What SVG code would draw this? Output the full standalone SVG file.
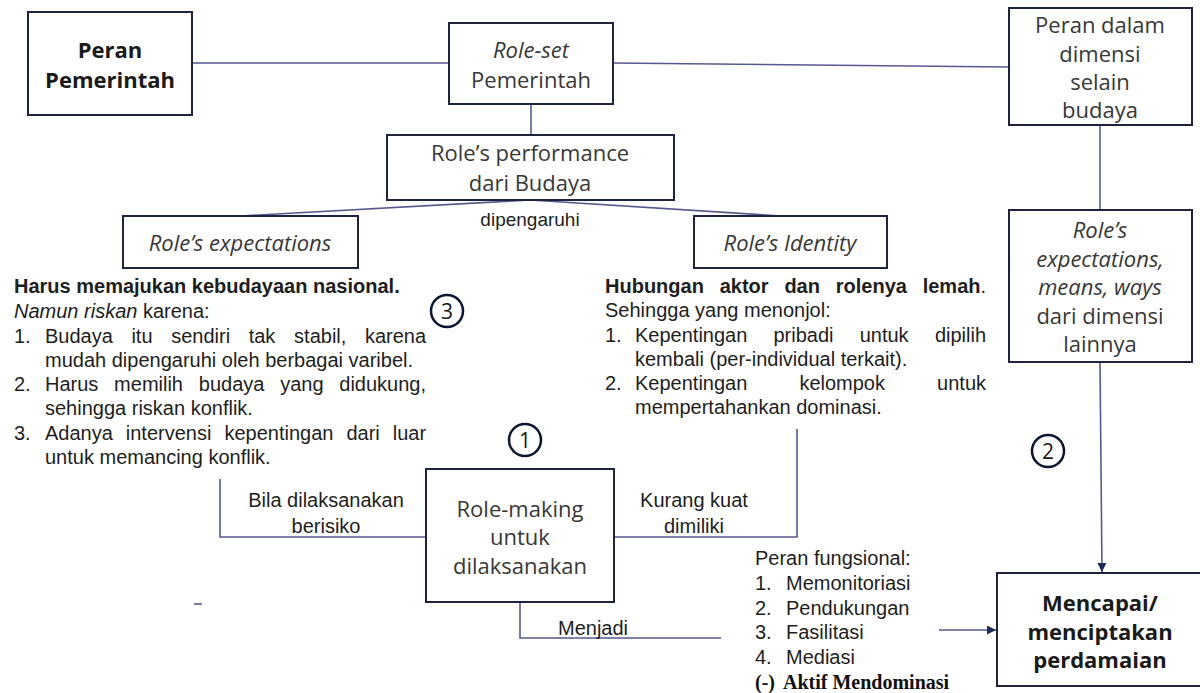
<svg xmlns="http://www.w3.org/2000/svg" width="1200" height="693" viewBox="0 0 1200 693">
<style>
  .box { fill: #ffffff; stroke: #1e2340; stroke-width: 2; }
  .bt { font-family: "Open Sans", "Liberation Sans", sans-serif; font-size: 22px; font-weight: 400; fill: #383838; text-anchor: middle; }
  .bb { font-family: "Open Sans", "Liberation Sans", sans-serif; font-size: 22px; font-weight: bold; fill: #1a1a1a; text-anchor: middle; }
  .it { font-style: italic; }
  .con { fill: none; stroke: #55598f; stroke-width: 1.6; }
  .tx { font-family: "Liberation Sans", Arial, sans-serif; font-size: 20px; fill: #1e1e1e; }
  .txc { font-family: "Liberation Sans", Arial, sans-serif; font-size: 20px; fill: #1e1e1e; text-anchor: middle; }
  .circ { fill: #ffffff; stroke: #0c1533; stroke-width: 2.5; }
  .num { font-family: "Open Sans", "Liberation Sans", sans-serif; font-size: 21px; fill: #1a1a1a; text-anchor: middle; }
  .tb { font-family: "Liberation Serif", "Times New Roman", serif; font-size: 20px; font-weight: bold; fill: #111111; }
</style>
<defs>
  <marker id="arr" viewBox="0 0 10 10" refX="10" refY="5" markerWidth="9" markerHeight="9" markerUnits="userSpaceOnUse" orient="auto">
    <path d="M0,0 L10,5 L0,10 Z" fill="#1e2a5a"/>
  </marker>
</defs>
<rect width="1200" height="693" fill="#ffffff"/>

<g id="connectors">
  <line class="con" x1="192" y1="63" x2="449" y2="63"/>
  <line class="con" x1="613" y1="63" x2="1009" y2="67"/>
  <line class="con" x1="531" y1="104" x2="531" y2="135"/>
  <line class="con" x1="530" y1="200" x2="241" y2="216"/>
  <line class="con" x1="530" y1="200" x2="782" y2="216"/>
  <line class="con" x1="1100" y1="125" x2="1100" y2="210"/>
  <line class="con" x1="1100" y1="362" x2="1102" y2="572" marker-end="url(#arr)"/>
  <polyline class="con" points="220,479 220,537 426,537"/>
  <polyline class="con" points="614,537 797,537 797,429"/>
  <polyline class="con" points="520,602 520,638 721,638"/>
  <line class="con" x1="939" y1="630" x2="996" y2="630" marker-end="url(#arr)"/>
  <line class="con" x1="194" y1="604" x2="202" y2="604"/>
</g>

<g id="peran-pemerintah">
  <rect class="box" x="28" y="12" width="164" height="103"/>
  <text class="bb" x="110" y="58">Peran</text>
  <text class="bb" x="110" y="88">Pemerintah</text>
</g>

<g id="role-set">
  <rect class="box" x="449" y="23" width="164" height="81"/>
  <text class="bt it" x="531" y="58">Role-set</text>
  <text class="bt" x="531" y="88">Pemerintah</text>
</g>

<g id="peran-dalam-dimensi">
  <rect class="box" x="1009" y="8" width="183" height="117"/>
  <text class="bt" x="1100" y="33">Peran dalam</text>
  <text class="bt" x="1100" y="62">dimensi</text>
  <text class="bt" x="1100" y="90">selain</text>
  <text class="bt" x="1100" y="118">budaya</text>
</g>

<g id="roles-performance">
  <rect class="box" x="387" y="135" width="287" height="65"/>
  <text class="bt" x="530" y="161">Role’s performance</text>
  <text class="bt" x="530" y="191">dari Budaya</text>
</g>

<g id="dipengaruhi-label">
  <text class="txc" x="530" y="226" style="font-size:19px">dipengaruhi</text>
</g>

<g id="roles-expectations">
  <rect class="box" x="123" y="216" width="235" height="52"/>
  <text class="bt it" x="240" y="251">Role’s expectations</text>
</g>

<g id="roles-identity">
  <rect class="box" x="694" y="216" width="193" height="52"/>
  <text class="bt it" x="790" y="251">Role’s Identity</text>
</g>

<g id="roles-expectations-means-ways">
  <rect class="box" x="1009" y="210" width="183" height="152"/>
  <text class="bt it" x="1100" y="238">Role’s</text>
  <text class="bt it" x="1100" y="267">expectations,</text>
  <text class="bt it" x="1100" y="295">means, ways</text>
  <text class="bt" x="1100" y="324">dari dimensi</text>
  <text class="bt" x="1100" y="352">lainnya</text>
</g>

<g id="expectations-text">
  <text class="tx" x="14" y="293" font-weight="bold">Harus memajukan kebudayaan nasional.</text>
  <text class="tx" x="14" y="318"><tspan font-style="italic">Namun riskan</tspan> karena:</text>
  <text class="tx" y="343"><tspan x="14">1.</tspan><tspan x="45">Budaya</tspan><tspan x="131.4">itu</tspan><tspan x="171.2">sendiri</tspan><tspan x="248.7">tak</tspan><tspan x="294.1">stabil,</tspan><tspan x="364.9">karena</tspan></text>
  <text class="tx" x="45" y="367">mudah dipengaruhi oleh berbagai varibel.</text>
  <text class="tx" y="391"><tspan x="14">2.</tspan><tspan x="45">Harus</tspan><tspan x="114.1">memilih</tspan><tspan x="198.8">budaya</tspan><tspan x="280.2">yang</tspan><tspan x="339.3">didukung,</tspan></text>
  <text class="tx" x="45" y="415">sehingga riskan konflik.</text>
  <text class="tx" y="440"><tspan x="14">3.</tspan><tspan x="45">Adanya</tspan><tspan x="125.8">intervensi</tspan><tspan x="224.4">kepentingan</tspan><tspan x="346.4">dari</tspan><tspan x="392.7">luar</tspan></text>
  <text class="tx" x="45" y="464">untuk memancing konflik.</text>
</g>

<g id="identity-text">
  <text class="tx" y="293"><tspan x="605" font-weight="bold">Hubungan</tspan><tspan x="719.7" font-weight="bold">aktor</tspan><tspan x="784.4" font-weight="bold">dan</tspan><tspan x="835.8" font-weight="bold">rolenya</tspan><tspan x="922.7" font-weight="bold">lemah</tspan><tspan x="980.5">.</tspan></text>
  <text class="tx" x="605" y="317">Sehingga yang menonjol:</text>
  <text class="tx" y="342"><tspan x="605">1.</tspan><tspan x="635">Kepentingan</tspan><tspan x="773.5">pribadi</tspan><tspan x="859.7">untuk</tspan><tspan x="934.9">dipilih</tspan></text>
  <text class="tx" x="635" y="366">kembali (per-individual terkait).</text>
  <text class="tx" y="390"><tspan x="605">2.</tspan><tspan x="635">Kepentingan</tspan><tspan x="799.4">kelompok</tspan><tspan x="937.1">untuk</tspan></text>
  <text class="tx" x="635" y="414">mempertahankan dominasi.</text>
</g>

<g id="badge-3">
  <circle class="circ" cx="447" cy="311" r="16"/>
  <text class="num" x="447" y="318.5">3</text>
</g>
<g id="badge-1">
  <circle class="circ" cx="525" cy="440" r="16"/>
  <text class="num" x="525" y="447.5">1</text>
</g>
<g id="badge-2">
  <circle class="circ" cx="1048" cy="451" r="16"/>
  <text class="num" x="1048" y="458.5">2</text>
</g>

<g id="role-making">
  <rect class="box" x="426" y="469" width="188" height="133"/>
  <text class="bt" x="520" y="517">Role-making</text>
  <text class="bt" x="520" y="545">untuk</text>
  <text class="bt" x="520" y="574">dilaksanakan</text>
</g>

<g id="edge-labels">
  <text class="txc" x="326" y="507">Bila dilaksanakan</text>
  <text class="txc" x="326" y="533">berisiko</text>
  <text class="txc" x="694" y="507">Kurang kuat</text>
  <text class="txc" x="694" y="533">dimiliki</text>
  <text class="txc" x="593" y="635">Menjadi</text>
</g>

<g id="peran-fungsional">
  <text class="tx" x="755" y="565">Peran fungsional:</text>
  <text class="tx" y="590"><tspan x="755">1.</tspan><tspan x="786">Memonitoriasi</tspan></text>
  <text class="tx" y="615"><tspan x="755">2.</tspan><tspan x="786">Pendukungan</tspan></text>
  <text class="tx" y="639"><tspan x="755">3.</tspan><tspan x="786">Fasilitasi</tspan></text>
  <text class="tx" y="664"><tspan x="755">4.</tspan><tspan x="786">Mediasi</tspan></text>
  <text class="tb" y="689"><tspan x="755">(-)</tspan><tspan x="783">Aktif Mendominasi</tspan></text>
</g>

<g id="mencapai-perdamaian">
  <rect class="box" x="997" y="573" width="210" height="113"/>
  <text class="bb" x="1100" y="611">Mencapai/</text>
  <text class="bb" x="1100" y="640">menciptakan</text>
  <text class="bb" x="1100" y="668">perdamaian</text>
</g>
</svg>
